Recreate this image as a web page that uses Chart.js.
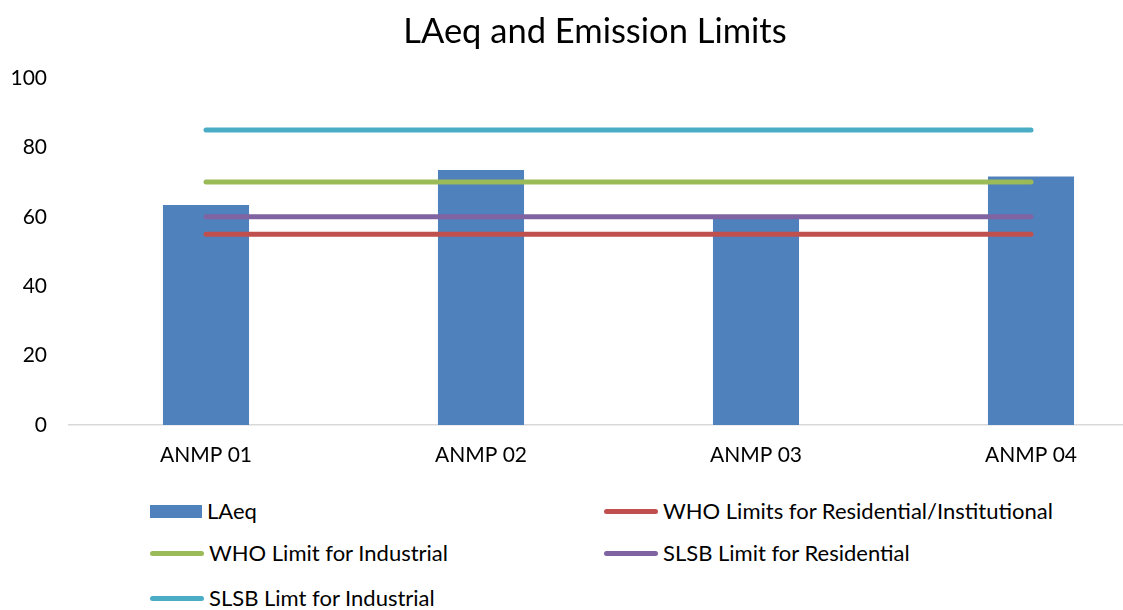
<!DOCTYPE html>
<html>
<head>
<meta charset="utf-8">
<script src="https://cdn.jsdelivr.net/npm/chart.js@4.4.1/dist/chart.umd.min.js"></script>
<style>
  html, body { margin: 0; padding: 0; background: #fff; overflow: hidden; width: 1123px; height: 610px; }
  #wrap { position: relative; width: 1190px; height: 610px; font-family: Lato, "Open Sans", sans-serif; color: #000; }
  #title { position: absolute; left: 0; width: 1190px; top: 9px; text-align: center; font-size: 34.5px; line-height: 42px; }
  #cv { position: absolute; left: 0; top: 0; }
  .lg { position: absolute; font-size: 22px; line-height: 26px; white-space: nowrap; }
  .sw { position: absolute; }
</style>
</head>
<body>
<div id="wrap">
  <canvas id="cv" width="1190" height="470"></canvas>
  <div id="title">LAeq and Emission Limits</div>
  <div id="legend"></div>
</div>
<script>
const categories = ["ANMP 01", "ANMP 02", "ANMP 03", "ANMP 04"];
const laeq = [63.4, 73.5, 60.3, 71.6];
const whoResidential = [55, 55, 55, 55];
const whoIndustrial = [70, 70, 70, 70];
const slsbResidential = [60, 60, 60, 60];
const slsbIndustrial = [85, 85, 85, 85];
const yTicks = [0, 20, 40, 60, 80, 100];

const seriesNames = ["LAeq", "WHO Limits for Residential/Institutional", "WHO Limit for Industrial", "SLSB Limit for Residential", "SLSB Limt for Industrial"];
const colors = ["#4F81BD", "#C0504D", "#9BBB59", "#8064A2", "#4BACC6"];

function lineDs(label, data, color) {
  return { type: 'line', label, data, borderColor: color, backgroundColor: color, borderWidth: 5,
           borderCapStyle: 'round', pointRadius: 0, fill: false, order: 0, tension: 0 };
}

new Chart(document.getElementById('cv'), {
  type: 'bar',
  data: {
    labels: categories,
    datasets: [
      { type: 'bar', label: seriesNames[0], data: laeq, backgroundColor: colors[0], borderWidth: 0,
        categoryPercentage: 1.0, barPercentage: 0.313, order: 5 },
      lineDs(seriesNames[1], whoResidential, colors[1]),
      lineDs(seriesNames[2], whoIndustrial, colors[2]),
      lineDs(seriesNames[3], slsbResidential, colors[3]),
      lineDs(seriesNames[4], slsbIndustrial, colors[4])
    ]
  },
  options: {
    responsive: false,
    animation: false,
    layout: { padding: { top: 78, left: 0, right: 21.5, bottom: 0 } },
    plugins: { legend: { display: false }, title: { display: false }, tooltip: { enabled: false } },
    scales: {
      x: {
        grid: { display: false, drawTicks: false },
        border: { display: true, color: '#D9D9D9', width: 1.5 },
        ticks: { color: '#000', font: { family: 'Lato', size: 21 }, padding: 18 },
        afterFit: s => { s.height = 45; }
      },
      y: {
        min: 0, max: 100,
        afterBuildTicks: s => { s.ticks = yTicks.map(v => ({ value: v })); },
        grid: { display: false, drawTicks: false },
        border: { display: false },
        ticks: { color: '#000', font: { family: 'Lato', size: 21 }, padding: 21.5 },
        afterFit: s => { s.width = 68.5; }
      }
    }
  }
});

// Legend (two columns, as in the reference)
const legendPos = [
  { x: 150, y: 511 }, { x: 604, y: 511 },
  { x: 150, y: 553 }, { x: 604, y: 553 },
  { x: 150, y: 598 }
];
const lg = document.getElementById('legend');
seriesNames.forEach((name, i) => {
  const p = legendPos[i];
  const sw = document.createElement('div');
  sw.className = 'sw';
  if (i === 0) {
    Object.assign(sw.style, { left: p.x + 'px', top: (p.y - 6.5) + 'px', width: '52px', height: '13px', background: colors[i] });
  } else {
    Object.assign(sw.style, { left: p.x + 'px', top: (p.y - 2.5) + 'px', width: '54px', height: '5px', background: colors[i], borderRadius: '3px' });
  }
  lg.appendChild(sw);
  const t = document.createElement('div');
  t.className = 'lg';
  t.textContent = name;
  Object.assign(t.style, { left: (p.x + (i === 0 ? 57 : 59)) + 'px', top: (p.y - 13) + 'px' });
  lg.appendChild(t);
});
</script>
</body>
</html>
